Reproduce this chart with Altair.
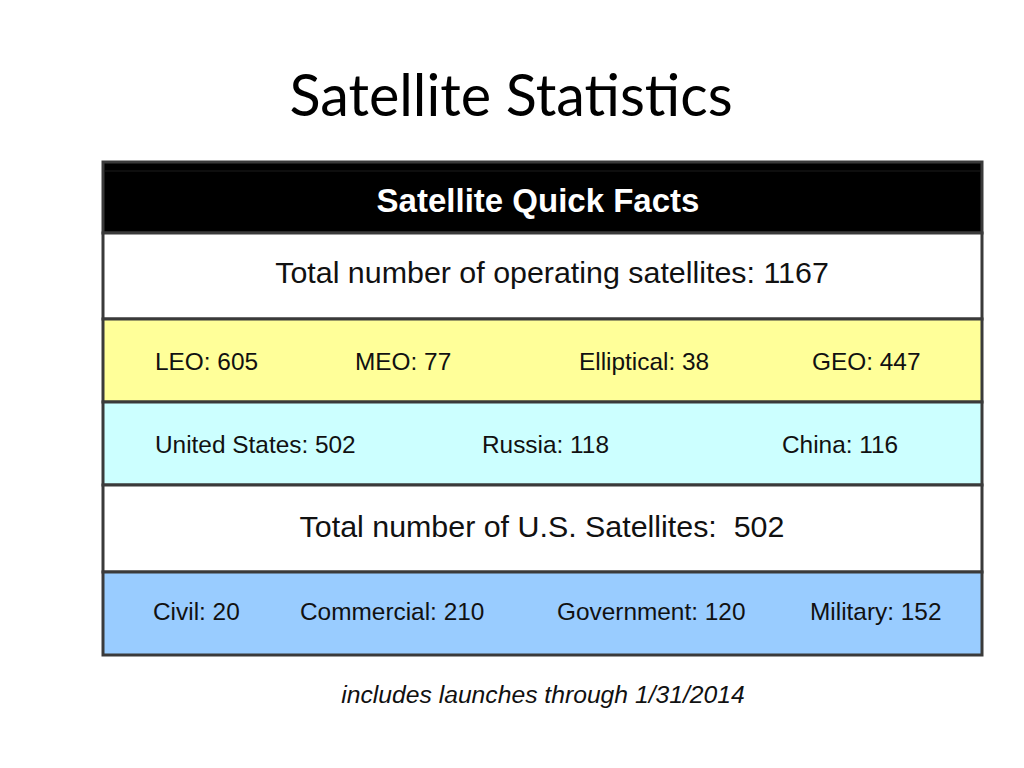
import altair as alt
import pandas as pd

# ---- data ----
title_text = "Satellite Statistics"
header_text = "Satellite Quick Facts"
total_label = "Total number of operating satellites"
total_value = 1167
orbit_labels = ["LEO", "MEO", "Elliptical", "GEO"]
orbit_values = [605, 77, 38, 447]
country_labels = ["United States", "Russia", "China"]
country_values = [502, 118, 116]
us_total_label = "Total number of U.S. Satellites"
us_total_value = 502
us_labels = ["Civil", "Commercial", "Government", "Military"]
us_values = [20, 210, 120, 152]
footnote = "includes launches through 1/31/2014"

# ---- layout (page pixel coordinates) ----
W, H = 1008, 752
TL, TR = 103, 982
row_bounds = [(162, 233), (233, 319), (319, 402), (402, 485), (485, 572), (572, 655)]
row_fills = ["#000000", "#FFFFFF", "#FFFF99", "#CCFFFF", "#FFFFFF", "#99CCFF"]
orbit_x = [155, 355, 579, 812]
country_x = [155, 482, 782]
us_x = [153, 300, 557, 810]

xs = alt.Scale(domain=[8, 8 + W], nice=False, zero=False)
ys = alt.Scale(domain=[8, 8 + H], nice=False, zero=False, reverse=True)

rows = pd.DataFrame({
    "x0": [TL] * 6, "x1": [TR] * 6,
    "y0": [b[0] for b in row_bounds], "y1": [b[1] for b in row_bounds],
    "fill": row_fills,
})

rects = alt.Chart(rows).mark_rect(stroke="#3a3a3a", strokeWidth=3).encode(
    x=alt.X("x0:Q", scale=xs, axis=None), x2="x1:Q",
    y=alt.Y("y0:Q", scale=ys, axis=None), y2="y1:Q",
    fill=alt.Fill("fill:N", scale=None),
)

header_line = alt.Chart(pd.DataFrame({"x0": [TL + 2], "x1": [TR - 2], "y": [171]})).mark_rule(
    color="#1c1c1c", strokeWidth=1
).encode(
    x=alt.X("x0:Q", scale=xs, axis=None), x2="x1:Q",
    y=alt.Y("y:Q", scale=ys, axis=None),
)

def mid(i):
    return (row_bounds[i][0] + row_bounds[i][1]) / 2

def txt(df, size, align="left", weight="normal", style="normal", color="#111111", font="Liberation Sans"):
    return alt.Chart(df).mark_text(
        align=align, baseline="middle", fontSize=size, font=font,
        fontWeight=weight, fontStyle=style, color=color,
    ).encode(
        x=alt.X("x:Q", scale=xs, axis=None),
        y=alt.Y("y:Q", scale=ys, axis=None),
        text="label:N",
    )

header = txt(pd.DataFrame({"label": [header_text], "x": [538], "y": [mid(0) + 4]}),
             33, align="center", weight="bold", color="#FFFFFF")
big = txt(pd.DataFrame({
    "label": [f"{total_label}: {total_value}",
              f"{us_total_label}:\u00a0 {us_total_value}"],
    "x": [552, 542],
    "y": [mid(1) - 2, mid(4) - 1],
}), 30.4, align="center")

orbit_df = pd.DataFrame({
    "label": [f"{l}: {v}" for l, v in zip(orbit_labels, orbit_values)],
    "x": orbit_x, "y": [mid(2) + 2] * 4,
})
country_df = pd.DataFrame({
    "label": [f"{l}: {v}" for l, v in zip(country_labels, country_values)],
    "x": country_x, "y": [mid(3) + 2] * 3,
})
us_df = pd.DataFrame({
    "label": [f"{l}: {v}" for l, v in zip(us_labels, us_values)],
    "x": us_x, "y": [mid(5) - 1] * 4,
})
small = txt(pd.concat([orbit_df, country_df, us_df]), 24.4)

foot = txt(pd.DataFrame({"label": [footnote], "x": [543], "y": [696]}), 24.7,
           align="center", style="italic")
title = txt(pd.DataFrame({"label": [title_text], "x": [511], "y": [99]}), 57.5,
            align="center", font="Lato", color="#000000")

chart = alt.layer(rects, header_line, header, big, small, foot, title).properties(
    width=W, height=H,
    autosize=alt.AutoSizeParams(type="none"),
    padding=0,
).configure_view(stroke=None)

chart.save("out.html", embed_options={"renderer": "svg", "actions": False})
